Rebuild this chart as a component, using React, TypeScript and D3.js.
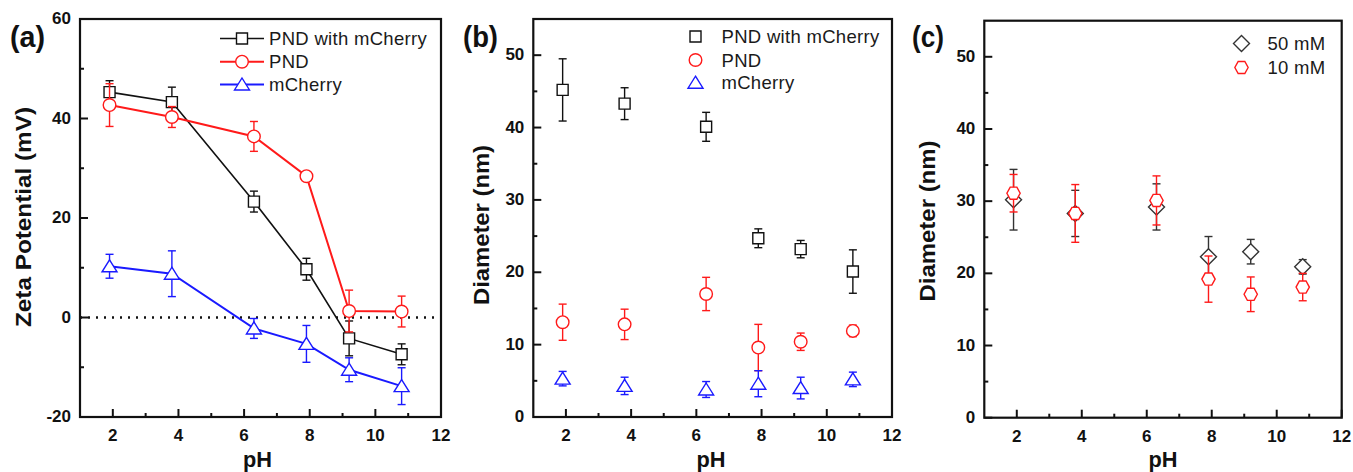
import React, { useEffect, useRef } from "react";
import * as d3 from "d3";

// pH values shared by every series
const pHValues = [1.9, 3.8, 6.3, 7.9, 9.2, 10.8];

// (a) zeta potential (mV)
const zetaPndMcherry = [45.3, 43.3, 23.3, 9.7, -4.2, -7.4];
const zetaPndMcherryErr = [2.3, 3.0, 2.1, 2.2, 3.5, 2.1];
const zetaPnd = [42.7, 40.3, 36.4, 28.4, 1.3, 1.2];
const zetaPndErr = [4.3, 2.1, 3.0, 0.8, 4.2, 3.1];
const zetaMcherry = [10.3, 8.8, -2.2, -5.3, -10.5, -13.8];
const zetaMcherryErr = [2.4, 4.6, 2.0, 3.7, 2.4, 3.7];

// (b) diameter (nm)
const diaPndMcherry = [45.2, 43.3, 40.1, 24.7, 23.2, 20.1];
const diaPndMcherryErr = [4.3, 2.2, 2.0, 1.3, 1.2, 3.0];
const diaPnd = [13.1, 12.8, 17.0, 9.6, 10.4, 11.9];
const diaPndErr = [2.5, 2.1, 2.3, 3.2, 1.2, 0.8];
const diaMcherry = [5.3, 4.3, 3.8, 4.6, 4.0, 5.2];
const diaMcherryErr = [1.0, 1.2, 1.1, 1.8, 1.5, 1.0];

// (c) diameter (nm) vs buffer strength
const dia50mM = [30.2, 28.3, 29.2, 22.3, 23.0, 20.9];
const dia50mMErr = [4.2, 3.2, 3.2, 2.8, 1.7, 1.0];
const dia10mM = [31.1, 28.3, 30.1, 19.2, 17.1, 18.1];
const dia10mMErr = [2.6, 4.0, 3.4, 3.2, 2.4, 1.9];

const xMajor = [2, 4, 6, 8, 10, 12];
const xMinor = [3, 5, 7, 9, 11];

const FONT = "Arial, 'Liberation Sans', sans-serif";
const RED = "#ff1a1a";
const BLUE = "#1a1aff";

type Shape = "square" | "circle" | "triangle" | "diamond" | "hexagon";

const shapePath = (shape: Shape): string => {
  switch (shape) {
    case "square":
      return "M-5.5,-5.5H5.5V5.5H-5.5Z";
    case "circle":
      return d3.arc()({ innerRadius: 0, outerRadius: 6.3, startAngle: 0, endAngle: 2 * Math.PI }) as string;
    case "triangle":
      return "M0,-6.5L7.5,5.5L-7.5,5.5Z";
    case "diamond":
      return "M0,-8L8,0L0,8L-8,0Z";
    case "hexagon": {
      const pts = d3.range(6).map((i) => {
        const a = (Math.PI / 3) * i;
        return [7 * Math.cos(a) * 0.95, 7 * Math.sin(a)];
      });
      return "M" + pts.map((p) => p.join(",")).join("L") + "Z";
    }
  }
};

type Series = {
  name: string;
  values: number[];
  errs: number[];
  color: string;
  shape: Shape;
  line: boolean;
  lineWidth: number;
};

type PanelCfg = {
  tag: string;
  tagX: number;
  tagLen: number;
  x0: number;
  x1: number;
  y0: number;
  y1: number;
  yDomain: [number, number];
  yMajor: number[];
  yMinor: number[];
  yTitle: string;
  yTitleX: number;
  yTitleY: number;
  yTitleLen: number;
  pHX: number;
  series: Series[];
  legend: { lineX0: number; lineX1: number; markerX: number; textX: number; rows: number[]; line: boolean };
  zeroLine?: boolean;
};

const panels: PanelCfg[] = [
  {
    tag: "(a)",
    tagX: 10,
    tagLen: 35,
    x0: 80,
    x1: 441,
    y0: 19,
    y1: 417,
    yDomain: [-20, 60],
    yMajor: [-20, 0, 20, 40, 60],
    yMinor: [-10, 10, 30, 50],
    yTitle: "Zeta Potential (mV)",
    yTitleX: 31,
    yTitleY: 217,
    yTitleLen: 220,
    pHX: 257.5,
    zeroLine: true,
    series: [
      { name: "PND with mCherry", values: zetaPndMcherry, errs: zetaPndMcherryErr, color: "#111", shape: "square", line: true, lineWidth: 1.6 },
      { name: "PND", values: zetaPnd, errs: zetaPndErr, color: RED, shape: "circle", line: true, lineWidth: 2 },
      { name: "mCherry", values: zetaMcherry, errs: zetaMcherryErr, color: BLUE, shape: "triangle", line: true, lineWidth: 2 },
    ],
    legend: { lineX0: 220, lineX1: 264, markerX: 242, textX: 269, rows: [38.5, 61.7, 84.5], line: true },
  },
  {
    tag: "(b)",
    tagX: 463,
    tagLen: 35,
    x0: 533.3,
    x1: 892,
    y0: 19,
    y1: 417,
    yDomain: [0, 55],
    yMajor: [0, 10, 20, 30, 40, 50],
    yMinor: [5, 15, 25, 35, 45],
    yTitle: "Diameter (nm)",
    yTitleX: 489,
    yTitleY: 225,
    yTitleLen: 160,
    pHX: 711,
    series: [
      { name: "PND with mCherry", values: diaPndMcherry, errs: diaPndMcherryErr, color: "#111", shape: "square", line: false, lineWidth: 1.3 },
      { name: "PND", values: diaPnd, errs: diaPndErr, color: RED, shape: "circle", line: false, lineWidth: 1.3 },
      { name: "mCherry", values: diaMcherry, errs: diaMcherryErr, color: BLUE, shape: "triangle", line: false, lineWidth: 1.3 },
    ],
    legend: { lineX0: 0, lineX1: 0, markerX: 695.5, textX: 721.5, rows: [36.5, 60, 82.7], line: false },
  },
  {
    tag: "(c)",
    tagX: 912,
    tagLen: 32,
    x0: 984.3,
    x1: 1341.7,
    y0: 20.7,
    y1: 417.7,
    yDomain: [0, 55],
    yMajor: [0, 10, 20, 30, 40, 50],
    yMinor: [5, 15, 25, 35, 45],
    yTitle: "Diameter (nm)",
    yTitleX: 935,
    yTitleY: 221,
    yTitleLen: 161,
    pHX: 1163,
    series: [
      { name: "50 mM", values: dia50mM, errs: dia50mMErr, color: "#333", shape: "diamond", line: false, lineWidth: 1.3 },
      { name: "10 mM", values: dia10mM, errs: dia10mMErr, color: RED, shape: "hexagon", line: false, lineWidth: 1.3 },
    ],
    legend: { lineX0: 0, lineX1: 0, markerX: 1241.5, textX: 1267.5, rows: [43.5, 67.5], line: false },
  },
];

const drawPanel = (svg: d3.Selection<SVGSVGElement, unknown, null, undefined>, p: PanelCfg) => {
  const x = d3.scaleLinear().domain([1, 12]).range([p.x0, p.x1]);
  const y = d3.scaleLinear().domain(p.yDomain).range([p.y1, p.y0]);
  const g = svg.append("g");

  // zero reference
  if (p.zeroLine) {
    g.append("line")
      .attr("x1", p.x0)
      .attr("x2", p.x1)
      .attr("y1", y(0))
      .attr("y2", y(0))
      .attr("stroke", "#111")
      .attr("stroke-width", 2.4)
      .attr("stroke-dasharray", "2,6");
  }

  // ticks (inward)
  xMajor.forEach((t) => {
    g.append("line").attr("x1", x(t)).attr("x2", x(t)).attr("y1", p.y1).attr("y2", p.y1 - 8).attr("stroke", "#111").attr("stroke-width", 2);
    g.append("text")
      .attr("x", x(t))
      .attr("y", p.y1 + 24)
      .attr("text-anchor", "middle")
      .attr("font-family", FONT)
      .attr("font-weight", "bold")
      .attr("font-size", 17)
      .attr("fill", "#111")
      .text(t);
  });
  xMinor.forEach((t) => {
    g.append("line").attr("x1", x(t)).attr("x2", x(t)).attr("y1", p.y1).attr("y2", p.y1 - 4).attr("stroke", "#111").attr("stroke-width", 2);
  });
  p.yMajor.forEach((t) => {
    g.append("line").attr("x1", p.x0).attr("x2", p.x0 + 8).attr("y1", y(t)).attr("y2", y(t)).attr("stroke", "#111").attr("stroke-width", 2);
    g.append("text")
      .attr("x", p.x0 - 9)
      .attr("y", y(t) + 5)
      .attr("text-anchor", "end")
      .attr("font-family", FONT)
      .attr("font-weight", "bold")
      .attr("font-size", 17)
      .attr("fill", "#111")
      .text(t);
  });
  p.yMinor.forEach((t) => {
    g.append("line").attr("x1", p.x0).attr("x2", p.x0 + 4).attr("y1", y(t)).attr("y2", y(t)).attr("stroke", "#111").attr("stroke-width", 2);
  });

  // titles
  g.append("text")
    .attr("x", p.pHX)
    .attr("y", 467)
    .attr("text-anchor", "middle")
    .attr("font-family", FONT)
    .attr("font-weight", "bold")
    .attr("font-size", 22)
    .attr("textLength", 29)
    .attr("lengthAdjust", "spacingAndGlyphs")
    .attr("fill", "#111")
    .text("pH");
  g.append("text")
    .attr("transform", `translate(${p.yTitleX},${p.yTitleY}) rotate(-90)`)
    .attr("text-anchor", "middle")
    .attr("font-family", FONT)
    .attr("font-weight", "bold")
    .attr("font-size", 22)
    .attr("textLength", p.yTitleLen)
    .attr("lengthAdjust", "spacingAndGlyphs")
    .attr("fill", "#111")
    .text(p.yTitle);
  g.append("text")
    .attr("x", p.tagX)
    .attr("y", 47)
    .attr("font-family", FONT)
    .attr("font-weight", "bold")
    .attr("font-size", 29)
    .attr("textLength", p.tagLen)
    .attr("lengthAdjust", "spacingAndGlyphs")
    .attr("fill", "#111")
    .text(p.tag);

  // series
  p.series.forEach((s) => {
    const pts = pHValues.map((ph, i) => ({ ph, v: s.values[i], e: s.errs[i] }));
    if (s.line) {
      const line = d3
        .line<{ ph: number; v: number }>()
        .x((d) => x(d.ph))
        .y((d) => y(d.v));
      g.append("path").attr("d", line(pts)).attr("fill", "none").attr("stroke", s.color).attr("stroke-width", s.lineWidth);
    }
    const eb = g.append("g").attr("stroke", s.color).attr("stroke-width", 1.4);
    pts.forEach((d) => {
      eb.append("line").attr("x1", x(d.ph)).attr("x2", x(d.ph)).attr("y1", y(d.v - d.e)).attr("y2", y(d.v + d.e));
      [d.v - d.e, d.v + d.e].forEach((yy) => {
        eb.append("line").attr("x1", x(d.ph) - 4).attr("x2", x(d.ph) + 4).attr("y1", y(yy)).attr("y2", y(yy));
      });
    });
    g.append("g")
      .selectAll("path")
      .data(pts)
      .join("path")
      .attr("transform", (d) => `translate(${x(d.ph)},${y(d.v)})`)
      .attr("d", shapePath(s.shape))
      .attr("fill", "#fff")
      .attr("stroke", s.color)
      .attr("stroke-width", 1.4);
  });

  // legend
  p.series.forEach((s, i) => {
    const ry = p.legend.rows[i];
    if (p.legend.line) {
      g.append("line")
        .attr("x1", p.legend.lineX0)
        .attr("x2", p.legend.lineX1)
        .attr("y1", ry)
        .attr("y2", ry)
        .attr("stroke", s.color)
        .attr("stroke-width", s.lineWidth);
    }
    g.append("path")
      .attr("transform", `translate(${p.legend.markerX},${ry})`)
      .attr("d", shapePath(s.shape))
      .attr("fill", "#fff")
      .attr("stroke", s.color)
      .attr("stroke-width", 1.4);
    g.append("text")
      .attr("x", p.legend.textX)
      .attr("y", ry + 6.5)
      .attr("font-family", FONT)
      .attr("font-size", 18.5)
      .attr("letter-spacing", 0.3)
      .attr("fill", "#1a1a1a")
      .text(s.name);
  });

  // frame
  g.append("rect")
    .attr("x", p.x0)
    .attr("y", p.y0)
    .attr("width", p.x1 - p.x0)
    .attr("height", p.y1 - p.y0)
    .attr("fill", "none")
    .attr("stroke", "#111")
    .attr("stroke-width", 2.2);
};

const App = () => {
  const svgRef = useRef<SVGSVGElement>(null);

  useEffect(() => {
    const svg = d3.select(svgRef.current!);
    svg.selectAll("*").remove();
    panels.forEach((p) => drawPanel(svg, p));
  }, []);

  return (
    <svg
      ref={svgRef}
      width={1353}
      height={472}
      style={{ position: "absolute", left: 0, top: 0, background: "#fff" }}
    />
  );
};

export default App;
